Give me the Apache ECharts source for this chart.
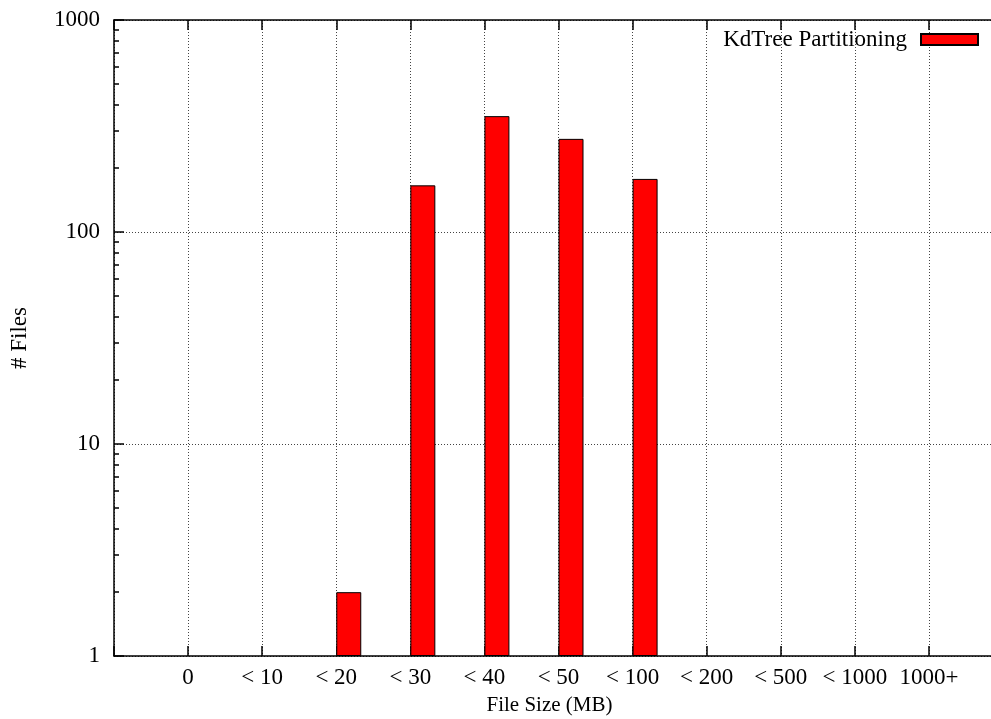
<!DOCTYPE html>
<html>
<head>
<meta charset="utf-8">
<script src="https://cdn.jsdelivr.net/npm/echarts@6/dist/echarts.min.js"></script>
<style>
html,body{margin:0;padding:0;background:#fff;}
#chart{width:991px;height:719px;}
</style>
</head>
<body>
<div id="chart"></div>
<script>
const categories = ['0', '< 10', '< 20', '< 30', '< 40', '< 50', '< 100', '< 200', '< 500', '< 1000', '1000+'];
const counts = [0, 0, 2, 166, 352, 275, 178, 0, 0, 0, 0];
const seriesName = 'KdTree Partitioning';
const yMajorTicks = [1, 10, 100, 1000];
const yMinorTicks = [2, 3, 4, 5, 6, 7, 8, 9, 20, 30, 40, 50, 60, 70, 80, 90, 200, 300, 400, 500, 600, 700, 800, 900];

const axisCats = [''].concat(categories, ['']);
const barData = ['-'].concat(counts.map(v => v > 0 ? v : '-'), ['-']);
const padData = axisCats.map(() => '-');

const FONT = 'Liberation Serif';
const chart = echarts.init(document.getElementById('chart'));
const lineStyle = { color: '#000', width: 1.5 };
const gridDots = { color: '#444', width: 1, type: [1, 2] };

chart.setOption({
  animation: false,
  backgroundColor: '#fff',
  textStyle: { fontFamily: FONT, color: '#000' },
  grid: { left: 114, top: 20, width: 889, height: 636, containLabel: false, outerBoundsMode: 'none' },
  legend: {
    data: [seriesName],
    right: 7,
    top: 23,
    align: 'right',
    itemWidth: 57,
    itemHeight: 11,
    icon: 'rect',
    textStyle: { fontFamily: FONT, fontSize: 23, color: '#000', padding: [0, 9, 0, 0] }
  },
  xAxis: [
    {
      type: 'category',
      data: axisCats,
      boundaryGap: false,
      position: 'bottom',
      name: 'File Size (MB)',
      nameLocation: 'middle',
      nameGap: 39,
      nameTextStyle: { fontFamily: FONT, fontSize: 21, color: '#000', padding: [0, 18, 0, 0] },
      axisLine: { show: true, lineStyle: lineStyle },
      axisTick: { show: true, inside: true, length: 10, interval: 0, lineStyle: { color: '#000', width: 1.5 } },
      axisLabel: { interval: 0, margin: 10, fontFamily: FONT, fontSize: 23, color: '#000' },
      splitLine: { show: true, interval: 0, lineStyle: gridDots }
    },
    {
      type: 'category',
      data: axisCats,
      boundaryGap: false,
      position: 'top',
      axisLine: { show: true, lineStyle: lineStyle },
      axisTick: { show: true, inside: true, length: 10, interval: 0, lineStyle: { color: '#000', width: 1.5 } },
      axisLabel: { show: false },
      splitLine: { show: false }
    }
  ],
  yAxis: [
    {
      type: 'log',
      logBase: 10,
      min: 1,
      max: 1000,
      position: 'left',
      name: '# Files',
      nameLocation: 'middle',
      nameGap: 83,
      nameTextStyle: { fontFamily: FONT, fontSize: 23, color: '#000' },
      axisLine: { show: true, lineStyle: lineStyle },
      axisTick: { show: true, inside: true, length: 10, customValues: yMajorTicks, lineStyle: { color: '#000', width: 1.5 } },
      axisLabel: { margin: 14, customValues: yMajorTicks, formatter: v => String(v), fontFamily: FONT, fontSize: 23, color: '#000' },
      splitLine: { show: true, lineStyle: gridDots }
    },
    {
      type: 'log',
      logBase: 10,
      min: 1,
      max: 1000,
      position: 'left',
      axisLine: { show: false },
      axisTick: { show: true, inside: true, length: 5, customValues: yMinorTicks, lineStyle: { color: '#000', width: 1.5 } },
      axisLabel: { show: false },
      splitLine: { show: false }
    }
  ],
  series: [
    {
      name: '_pad',
      type: 'bar',
      data: padData,
      barWidth: 25,
      barGap: '0%',
      xAxisIndex: 0,
      yAxisIndex: 0
    },
    {
      name: seriesName,
      type: 'bar',
      data: barData,
      barWidth: 25,
      barGap: '0%',
      xAxisIndex: 0,
      yAxisIndex: 0,
      itemStyle: { color: '#ff0000', borderColor: '#000', borderWidth: 1 }
    }
  ]
});
</script>
</body>
</html>
